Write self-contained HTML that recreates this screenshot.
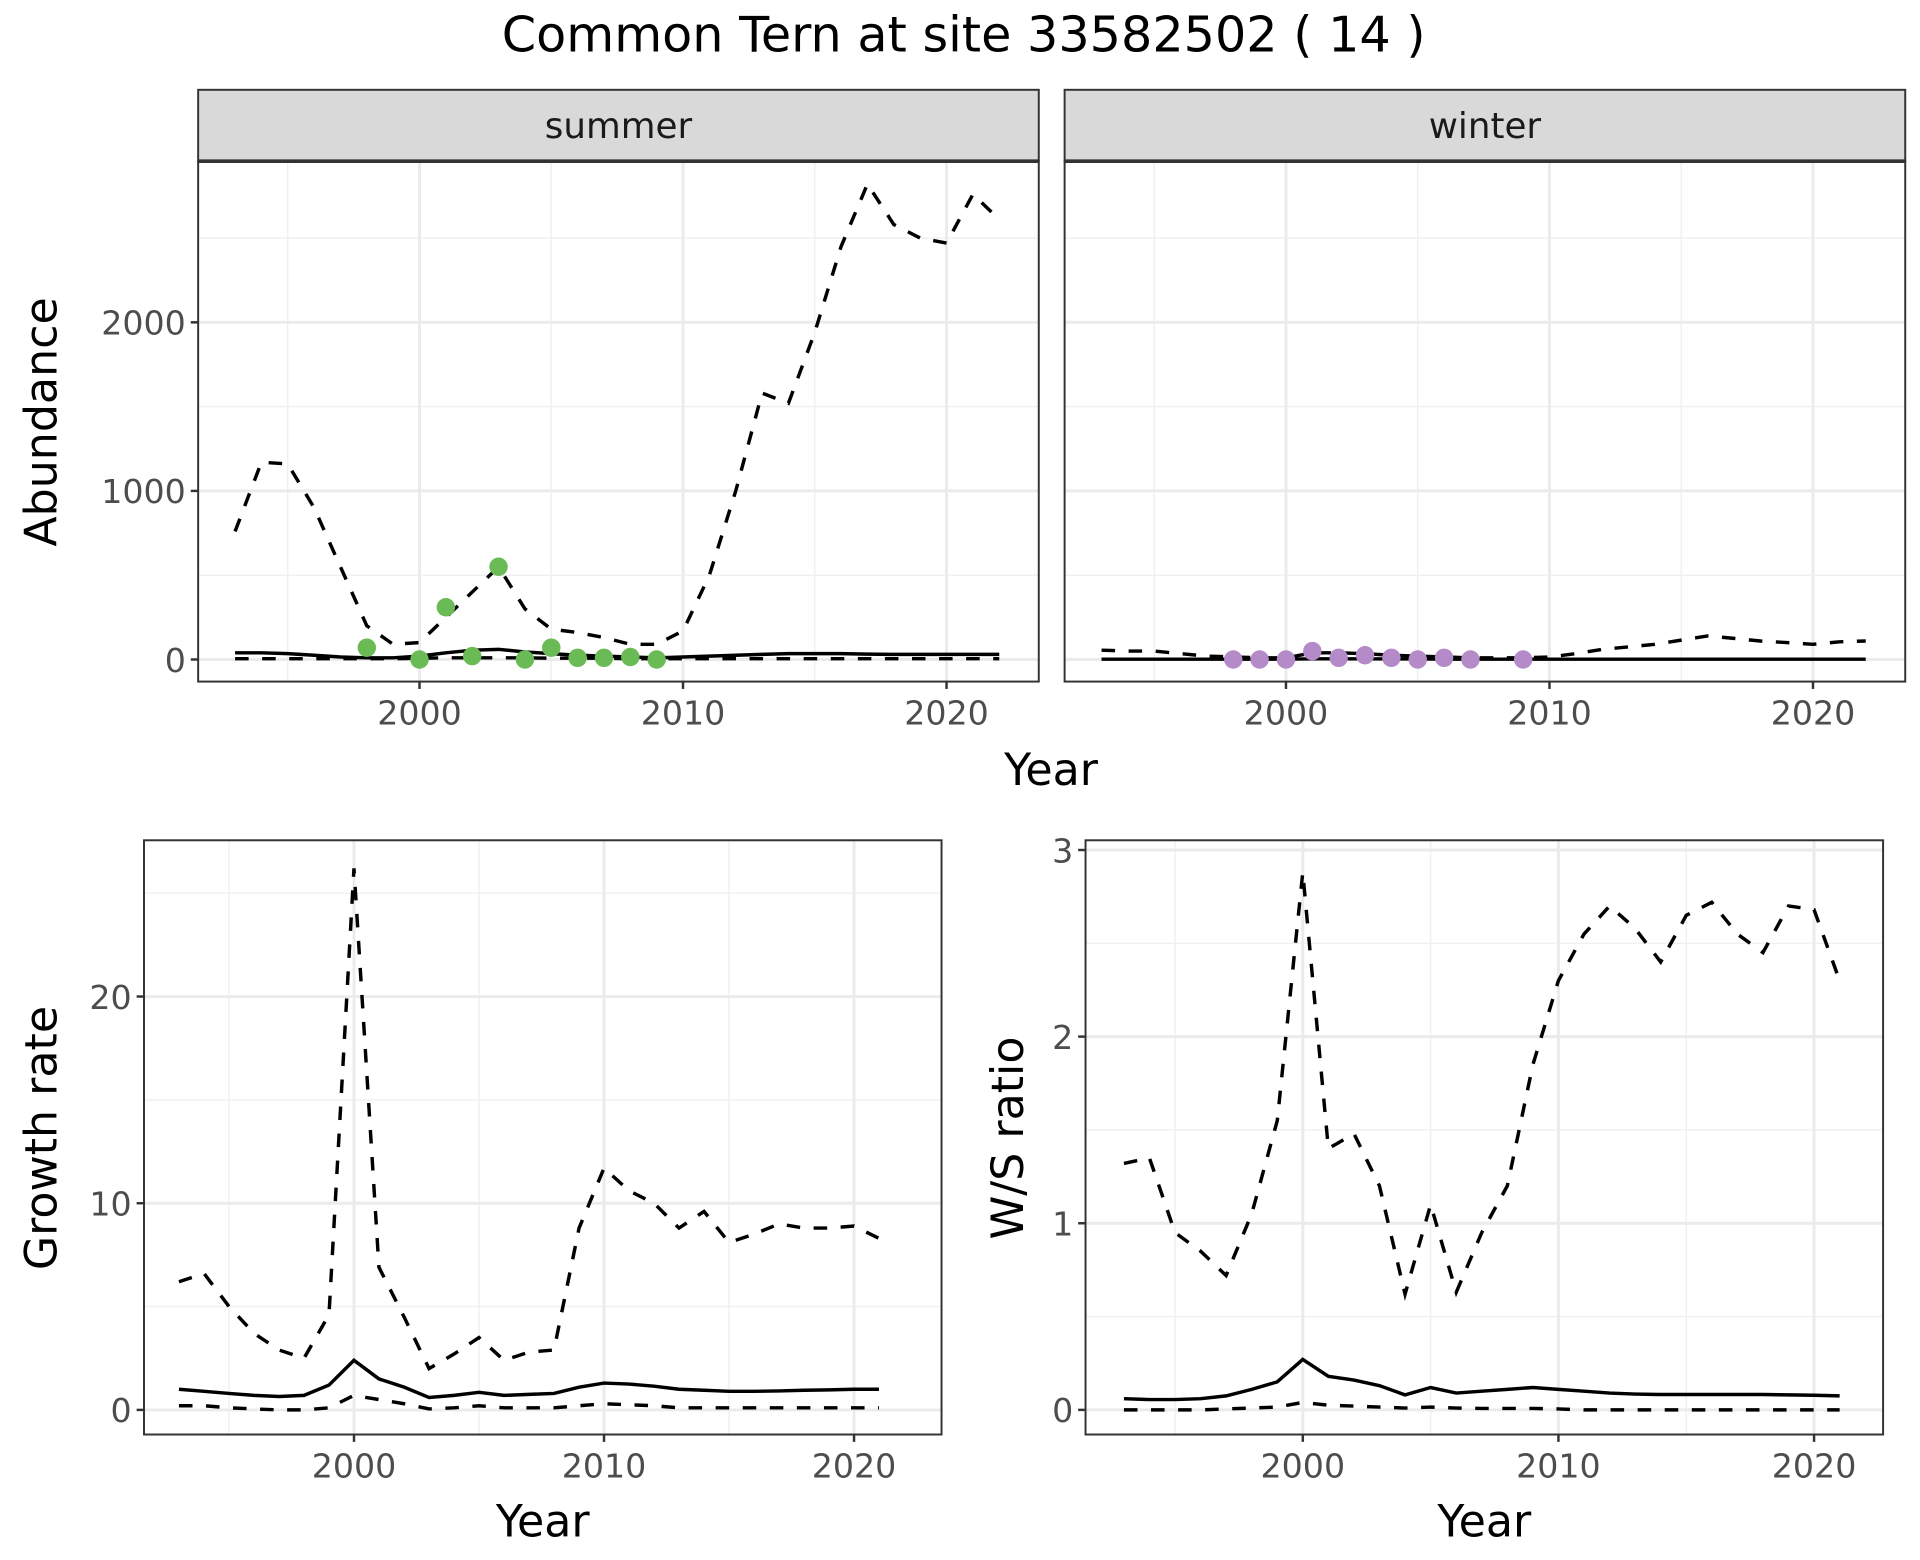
<!DOCTYPE html>
<html><head><meta charset="utf-8"><style>
html,body{margin:0;padding:0;background:#fff;width:1920px;height:1560px;overflow:hidden}
svg{display:block}
text{font-family:"DejaVu Sans","Liberation Sans",sans-serif}
</style></head><body>
<svg id="chart" width="1920" height="1560" viewBox="0 0 1560 1268" preserveAspectRatio="none" xmlns="http://www.w3.org/2000/svg">
<text x="783" y="42" font-size="40" text-anchor="middle" fill="#000">Common Tern at site 33582502 ( 14 )</text>
<g id="root"></g>
</svg>
<script>
const years = [1993,1994,1995,1996,1997,1998,1999,2000,2001,2002,2003,2004,2005,2006,2007,2008,2009,2010,2011,2012,2013,2014,2015,2016,2017,2018,2019,2020,2021,2022];
const summerUpper = [760,1170,1160,900,550,200,90,100,250,400,550,300,180,160,130,90,90,170,500,1000,1580,1520,1940,2450,2820,2580,2500,2470,2760,2610];
const summerMean = [40,40,35,25,15,10,10,20,40,55,60,45,35,25,20,15,10,15,20,25,30,35,35,35,32,30,30,30,30,30];
const summerLower = [5,5,5,5,5,5,5,8,10,10,10,10,8,8,8,5,5,5,5,5,5,5,5,5,5,5,5,5,5,5];
const summerObsYears = [1998,2000,2001,2002,2003,2004,2005,2006,2007,2008,2009];
const summerObs = [70,0,310,20,550,0,70,10,10,15,0];
const winterUpper = [55,50,50,35,20,15,10,10,40,40,35,25,20,15,10,10,10,15,35,60,75,90,115,140,125,110,100,90,105,110];
const winterMean = [2,2,2,2,2,2,2,2,4,4,4,3,3,2,2,2,2,2,2,2,2,2,2,2,2,2,2,2,2,2];
const winterObsYears = [1998,1999,2000,2001,2002,2003,2004,2005,2006,2007,2009];
const winterObs = [0,0,0,50,10,25,10,0,10,0,0];
const gYears = [1993,1994,1995,1996,1997,1998,1999,2000,2001,2002,2003,2004,2005,2006,2007,2008,2009,2010,2011,2012,2013,2014,2015,2016,2017,2018,2019,2020,2021];
const growthUpper = [6.2,6.6,5,3.7,2.9,2.5,4.6,26.2,6.9,4.5,2.0,2.7,3.5,2.4,2.8,2.9,8.8,11.7,10.6,10,8.8,9.6,8.1,8.5,9,8.8,8.8,8.9,8.3];
const growthMean = [1.0,0.9,0.8,0.7,0.65,0.7,1.2,2.4,1.5,1.1,0.6,0.7,0.85,0.7,0.75,0.8,1.1,1.3,1.25,1.15,1.0,0.95,0.9,0.9,0.92,0.95,0.97,1.0,1.0];
const growthLower = [0.2,0.2,0.1,0.05,0,0,0.1,0.7,0.5,0.3,0.05,0.1,0.2,0.1,0.1,0.1,0.2,0.3,0.25,0.2,0.1,0.1,0.1,0.1,0.1,0.1,0.1,0.1,0.1];
const ratioUpper = [1.32,1.35,0.95,0.85,0.72,1.05,1.55,2.88,1.4,1.48,1.2,0.62,1.1,0.63,0.95,1.2,1.85,2.3,2.55,2.7,2.58,2.4,2.65,2.72,2.55,2.45,2.7,2.68,2.3];
const ratioMean = [0.06,0.055,0.055,0.06,0.075,0.11,0.15,0.27,0.18,0.16,0.13,0.08,0.12,0.09,0.1,0.11,0.12,0.11,0.1,0.09,0.085,0.082,0.082,0.082,0.082,0.082,0.08,0.078,0.075];
const ratioLower = [0,0,0,0,0.005,0.01,0.015,0.04,0.025,0.02,0.015,0.01,0.015,0.01,0.008,0.008,0.008,0.005,0,0,0,0,0,0,0,0,0,0,0];
const xTicks = [2000,2010,2020];
const abTicks = [0,1000,2000];
const grTicks = [0,10,20];
const raTicks = [0,1,2,3];

const NS='http://www.w3.org/2000/svg';
const root=document.getElementById('root');
function el(tag,attrs,parent){const e=document.createElementNS(NS,tag);for(const k in attrs)e.setAttribute(k,attrs[k]);(parent||root).appendChild(e);return e;}
function scale(d0,d1,r0,r1){return v=>r0+(v-d0)/(d1-d0)*(r1-r0);}

function panel(o){
  const g=el('g',{});
  
  
  const x=scale(o.xd[0],o.xd[1],o.x0,o.x1), y=scale(o.yd[0],o.yd[1],o.y1,o.y0);
  el('rect',{x:o.x0,y:o.y0,width:o.x1-o.x0,height:o.y1-o.y0,fill:'#fff'},g);
  for(let i=0;i<o.xTicks.length+1;i++){const v=o.xTicks[0]-5+10*i;const px=x(v);if(px>o.x0&&px<o.x1)el('line',{x1:px,x2:px,y1:o.y0,y2:o.y1,stroke:'#f0f0f0','stroke-width':1.2},g);}
  o.yTicks.forEach((t,i)=>{const step=o.yTicks[1]-o.yTicks[0];const py=y(t+step/2);if(py>o.y0&&py<o.y1)el('line',{x1:o.x0,x2:o.x1,y1:py,y2:py,stroke:'#f0f0f0','stroke-width':1.2},g);});
  o.xTicks.forEach(t=>{const px=x(t);el('line',{x1:px,x2:px,y1:o.y0,y2:o.y1,stroke:'#ebebeb','stroke-width':2.4},g);
    el('line',{x1:px,x2:px,y1:o.y1,y2:o.y1+6,stroke:'#333','stroke-width':2},g);
    const tl=el('text',{x:px,y:o.y1+35,'font-size':27,fill:'#4d4d4d','text-anchor':'middle'},g);tl.textContent=t;
    
    });
  o.yTicks.forEach(t=>{const py=y(t);el('line',{x1:o.x0,x2:o.x1,y1:py,y2:py,stroke:'#ebebeb','stroke-width':2.4},g);
    if(o.yLabels){el('line',{x1:o.x0-6,x2:o.x0,y1:py,y2:py,stroke:'#333','stroke-width':2},g);
    const tl=el('text',{x:o.x0-10,y:py+10,'font-size':27,fill:'#4d4d4d','text-anchor':'end'},g);tl.textContent=t;
    
    }});
  o.series.forEach(s=>{
    const d=s.y.map((v,i)=>(i?'L':'M')+x(s.x[i]).toFixed(1)+','+y(v).toFixed(1)).join('');
    const p=el('path',{d:d,fill:'none',stroke:'#000','stroke-width':2.8,'stroke-dasharray':s.dash?'11,11':'none'},g);
    
    
  });
  if(o.pts){o.pts.y.forEach((v,i)=>{const c=el('circle',{cx:x(o.pts.x[i]),cy:y(v),r:7.5,fill:o.pts.color},g);
    
    });}
  el('rect',{x:o.x0,y:o.y0,width:o.x1-o.x0,height:o.y1-o.y0,fill:'none',stroke:'#333','stroke-width':1.6},g);
  if(o.strip){el('rect',{x:o.x0,y:o.y0-58,width:o.x1-o.x0,height:58,fill:'#d9d9d9',stroke:'#333','stroke-width':1.6},g);
    el('line',{x1:o.x0,x2:o.x1,y1:o.y0,y2:o.y0,stroke:'#333','stroke-width':3},g);
    const st=el('text',{x:(o.x0+o.x1)/2,y:o.y0-19,'font-size':29,fill:'#1a1a1a','text-anchor':'middle'},g);st.textContent=o.strip;
    
    }
}
const xd=[1991.6,2023.5];
panel({name:'summer-panel',x0:161,x1:844,y0:131,y1:554,xd:xd,yd:[-131,2956],xTicks,yTicks:abTicks,yLabels:true,strip:'summer',
  series:[{x:years,y:summerUpper,dash:1,name:'summer-upper-line'},{x:years,y:summerLower,dash:1,name:'summer-lower-line'},{x:years,y:summerMean,name:'summer-mean-line'}],
  pts:{x:summerObsYears,y:summerObs,color:'#6aba56'}});
panel({name:'winter-panel',x0:865,x1:1548,y0:131,y1:554,xd:xd,yd:[-131,2956],xTicks,yTicks:abTicks,yLabels:false,strip:'winter',
  series:[{x:years,y:winterUpper,dash:1,name:'winter-upper-line'},{x:years,y:winterMean,name:'winter-mean-line'}],
  pts:{x:winterObsYears,y:winterObs,color:'#b48ac8'}});
panel({name:'growth-panel',x0:117,x1:765,y0:683,y1:1166,xd:[1991.6,2023.5],yd:[-1.19,27.56],xTicks,yTicks:grTicks,yLabels:true,
  series:[{x:gYears,y:growthUpper,dash:1,name:'growth-upper-line'},{x:gYears,y:growthLower,dash:1,name:'growth-lower-line'},{x:gYears,y:growthMean,name:'growth-mean-line'}]});
panel({name:'ratio-panel',x0:882,x1:1530,y0:683,y1:1166,xd:[1991.5,2022.7],yd:[-0.132,3.052],xTicks,yTicks:raTicks,yLabels:true,
  series:[{x:gYears,y:ratioUpper,dash:1,name:'ratio-upper-line'},{x:gYears,y:ratioLower,dash:1,name:'ratio-lower-line'},{x:gYears,y:ratioMean,name:'ratio-mean-line'}]});
function label(txt,x,y,rot,name){const t=el('text',{x:x,y:y,'font-size':36,fill:'#000','text-anchor':'middle',transform:rot?`rotate(-90 ${x} ${y})`:''});t.textContent=txt;
  
  }
label('Year',854,638,0,'top-x-axis-title');
label('Abundance',46,343,1,'abundance-y-axis-title');
label('Year',441,1249,0,'growth-x-axis-title');
label('Growth rate',46,925,1,'growth-y-axis-title');
label('Year',1206,1249,0,'ratio-x-axis-title');
label('W/S ratio',831,925,1,'ratio-y-axis-title');
</script>
</body></html>
